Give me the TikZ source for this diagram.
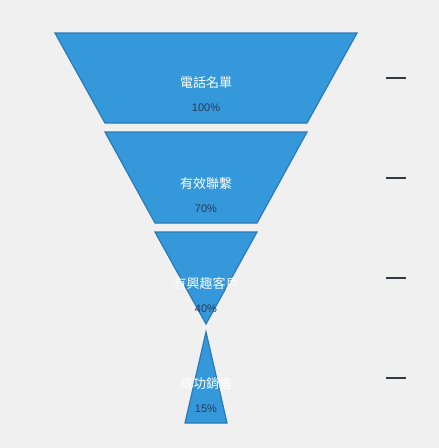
\documentclass[tikz,border=0pt]{standalone}
\usepackage{fontspec}
\setmainfont{Liberation Sans}
\newfontfamily\cjk{Noto Sans CJK TC}
\definecolor{bgc}{RGB}{240,240,240}
\definecolor{fillc}{RGB}{52,152,219}
\definecolor{edgec}{RGB}{41,122,184}
\definecolor{pctc}{RGB}{40,58,78}
\definecolor{dashc}{RGB}{52,58,64}
\begin{document}
\begin{tikzpicture}[x=1pt,y=-1pt,
  seg/.style={fill=fillc,draw=edgec,line width=1.2pt,line join=miter},
  namelbl/.style={text=white,font=\cjk\fontsize{13}{15}\selectfont,inner sep=0pt},
  pctlbl/.style={text=pctc,font=\fontsize{11}{13}\selectfont,inner sep=0pt},
  tick/.style={draw=dashc,line width=1.8pt}]
\fill[bgc] (0,0) rectangle (439,448);
\useasboundingbox (0,0) rectangle (439,448);
% segments
\path[seg] (55,33) -- (357,33) -- (307,123) -- (105,123) -- cycle;
\path[seg] (105,132) -- (307,132) -- (257,223) -- (155,223) -- cycle;
\path[seg] (155,232) -- (257,232) -- (206,324) -- cycle;
\path[seg] (206,332) -- (227,423) -- (185,423) -- cycle;
% labels
\node[namelbl] (n1) at (206,83) {電話名單};
\node[pctlbl] (p1) at (206,108) {100\%};
\node[namelbl] (n2) at (206,184) {有效聯繫};
\node[pctlbl] (p2) at (206,209) {70\%};
\node[namelbl] (n3) at (206,284) {有興趣客戶};
\node[pctlbl] (p3) at (206,309) {40\%};
\node[namelbl] (n4) at (206,384) {成功銷售};
\node[pctlbl] (p4) at (206,409) {15\%};
% ticks
\coordinate (t1a) at (386,78); \coordinate (t1b) at (406,78);
\coordinate (t2a) at (386,178); \coordinate (t2b) at (406,178);
\coordinate (t3a) at (386,278); \coordinate (t3b) at (406,278);
\coordinate (t4a) at (386,378); \coordinate (t4b) at (406,378);
\draw[tick] (t1a) -- (t1b);
\draw[tick] (t2a) -- (t2b);
\draw[tick] (t3a) -- (t3b);
\draw[tick] (t4a) -- (t4b);
\end{tikzpicture}
\end{document}
